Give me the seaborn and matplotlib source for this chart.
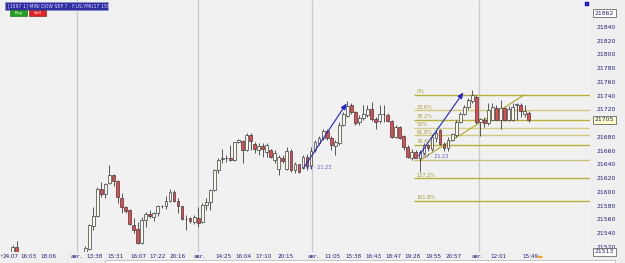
import numpy as np
import pandas as pd
import matplotlib
matplotlib.use("Agg")
import matplotlib.pyplot as plt
import matplotlib.transforms as mtrans
from matplotlib.patches import Rectangle, Circle
import seaborn as sns

nan = np.nan
# OHLC values (index = bar number)
opens = [21512, 21520] + [nan]*16 + [
    21513, 21517, 21551, 21565, 21605, 21597, 21613, 21625, 21616, 21591,
    21578, 21574, 21552, 21546, 21526, 21559, 21568, 21564, 21569, 21579,
    21579, 21587, 21600, 21587, 21579, 21561, 21562, 21557, 21562, 21557,
    21581, 21586, 21603, 21632, 21648, 21649, 21649, 21647, 21672, 21674,
    21661, 21683,
    21669, 21661, 21667, 21658, 21661, 21646, 21634, 21650, 21634, 21660,
    21632, 21640, 21635, 21651, 21637, 21661, 21671, 21678, 21689, 21679,
    21667, 21671, 21698, 21711, 21727, 21716, 21701, 21707, 21712, 21720,
    21706, 21703, 21713, 21712, 21703, 21680, 21694, 21682, 21666, 21650,
    21658, 21649, 21656, 21668, 21662, 21678, 21690, 21670, 21664, 21676,
    21683, 21702, 21714, 21723, 21732, 21738, 21702, 21705, 21700, 21705,
    21722, 21705, 21722, 21705, 21705, 21727, 21726, 21714, 21715]
highs = [21523, 21529] + [nan]*16 + [
    21521, 21553, 21578, 21607, 21614, 21613, 21639, 21626, 21617, 21598,
    21580, 21575, 21562, 21556, 21564, 21571, 21574, 21571, 21581, 21581,
    21594, 21605, 21603, 21591, 21580, 21566, 21563, 21566, 21578, 21584,
    21591, 21605, 21633, 21649, 21663, 21654, 21668, 21673, 21677, 21676,
    21685, 21685,
    21673, 21671, 21671, 21671, 21663, 21661, 21654, 21654, 21666, 21662,
    21644, 21641, 21654, 21655, 21666, 21675, 21681, 21691, 21691, 21681,
    21675, 21702, 21716, 21732, 21729, 21717, 21712, 21726, 21727, 21731,
    21709, 21726, 21726, 21715, 21705, 21697, 21696, 21683, 21668, 21662,
    21661, 21661, 21671, 21670, 21684, 21690, 21692, 21672, 21680, 21686,
    21704, 21716, 21726, 21736, 21748, 21741, 21707, 21709, 21729, 21729,
    21726, 21734, 21724, 21725, 21729, 21729, 21729, 21726, 21717]
lows = [21511, 21510] + [nan]*16 + [
    21511, 21516, 21545, 21564, 21593, 21591, 21611, 21609, 21584, 21569,
    21570, 21552, 21540, 21524, 21524, 21549, 21562, 21558, 21565, 21576,
    21575, 21586, 21586, 21569, 21559, 21545, 21555, 21554, 21549, 21555,
    21574, 21574, 21602, 21627, 21642, 21644, 21645, 21645, 21671, 21642,
    21660, 21661,
    21657, 21654, 21651, 21651, 21650, 21642, 21625, 21642, 21632, 21629,
    21628, 21627, 21634, 21632, 21634, 21658, 21668, 21675, 21675, 21661,
    21654, 21668, 21696, 21709, 21714, 21698, 21697, 21705, 21709, 21703,
    21692, 21700, 21702, 21702, 21678, 21678, 21677, 21661, 21649, 21646,
    21649, 21629, 21654, 21660, 21660, 21672, 21668, 21660, 21660, 21674,
    21680, 21700, 21712, 21721, 21730, 21699, 21682, 21694, 21697, 21704,
    21704, 21692, 21703, 21703, 21703, 21705, 21709, 21709, 21701]
closes = [21520, 21511] + [nan]*16 + [
    21519, 21552, 21565, 21605, 21597, 21612, 21625, 21616, 21592, 21578,
    21573, 21553, 21545, 21526, 21559, 21568, 21565, 21569, 21580, 21580,
    21587, 21600, 21587, 21580, 21560, 21560, 21558, 21563, 21555, 21581,
    21586, 21603, 21632, 21647, 21649, 21649, 21646, 21672, 21675, 21661,
    21683, 21674,
    21662, 21667, 21662, 21668, 21651, 21656, 21651, 21645, 21660, 21632,
    21640, 21629, 21651, 21637, 21660, 21672, 21678, 21689, 21678, 21668,
    21673, 21698, 21713, 21725, 21716, 21700, 21707, 21713, 21720, 21706,
    21702, 21713, 21713, 21703, 21680, 21694, 21679, 21666, 21651, 21658,
    21650, 21658, 21668, 21664, 21680, 21686, 21670, 21664, 21676, 21684,
    21702, 21714, 21724, 21734, 21741, 21701, 21706, 21700, 21719, 21724,
    21705, 21722, 21705, 21720, 21724, 21728, 21717, 21717, 21705]

x_tick_labels = ["24.07", "16:03", "18:06", "авг.", "13:38", "15:31", "16:07", "17:22",
                 "20:16", "авг.", "14:25", "16:04", "17:10", "20:15", "авг.", "11:05",
                 "15:38", "16:43", "18:47", "19:28", "19:55", "20:57", "авг.", "12:01", "15:49"]
y_ticks = list(range(21520, 21861, 20))

fib_labels = ["0%", "23.6%", "38.2%", "50%", "61.8%", "76.4%", "100%", "127.2%", "161.8%"]
fib_ratios = [0.0, 0.236, 0.382, 0.5, 0.618, 0.764, 1.0, 1.272, 1.618]
fib_high = 21741
fib_low = 21646

price_boxes = ["21862", "21705", "21513"]
price_box_values = [21860, 21705, 21513]

# ---------------- layout ----------------
W, H = 625, 263
sns.set_style("white", {"axes.facecolor": "#F1F1F1", "figure.facecolor": "#EFEFEF"})
plt.rcParams['font.family'] = ['DejaVu Sans']

fig = plt.figure(figsize=(W / 100, H / 100), dpi=100)
ax = fig.add_axes([0, 11 / H, 590 / W, 252 / H])
ax.set_facecolor("#F1F1F1")
for s in ax.spines.values():
    s.set_visible(False)

df = pd.DataFrame({"open": opens, "high": highs, "low": lows, "close": closes})
df["idx"] = np.arange(len(df))
df = df.dropna()

x_tick_pos = [-0.45, 3.8, 8.75, 15.7, 20.2, 25.4, 31.3, 36.0, 41.0, 46.2, 52.2, 57.1,
              62.1, 67.6, 74.5, 79.2, 84.4, 89.4, 94.4, 99.1, 104.3, 109.3, 115.2, 120.4, 128.3]
day_lines = [16.0, 46.0, 74.2, 115.6]
for d in day_lines:
    ax.axvline(d, color="#C9C9C9", lw=0.9, zorder=1)

# fibonacci levels
fib_colors = ["#B8B03A", "#CFC97A", "#B8B03A", "#D3CE8A", "#CFC97A", "#B8B03A",
              "#C9C37A", "#B8B03A", "#B8B03A"]
x_fib0 = 99.6
for lab, r, col in zip(fib_labels, fib_ratios, fib_colors):
    lvl = fib_high - r * (fib_high - fib_low)
    ax.plot([x_fib0, 150], [lvl, lvl], color=col, lw=1.0, zorder=2, solid_capstyle="butt")
    if lab != "100%":
        ax.text(x_fib0 + 0.5, lvl + 2.2, lab, fontsize=3.6, color="#A09A30", zorder=6)
ax.plot([101.0, 126.9], [fib_low, fib_high], color="#B8B03A", lw=0.9, zorder=2)

# candles
wick_col = "#3C3C3C"
ax.vlines(df["idx"], df["low"], df["high"], color=wick_col, lw=0.6, zorder=3)
up = df[df["close"] >= df["open"]]
dn = df[df["close"] < df["open"]]
ax.bar(up["idx"], np.maximum(up["close"] - up["open"], 0.6), bottom=up["open"], width=0.68,
       color="#F7F7EC", edgecolor=wick_col, lw=0.5, zorder=4)
ax.bar(dn["idx"], dn["open"] - dn["close"], bottom=dn["close"], width=0.68,
       color="#E8484C", edgecolor=wick_col, lw=0.5, zorder=4)

# arrows and annotations
for (x0, y0, x1, y1) in [(71.8, 21632, 83.2, 21732), (100.3, 21649, 112.2, 21748)]:
    ax.annotate("", xy=(x1, y1), xytext=(x0, y0),
                arrowprops=dict(arrowstyle="-|>,head_length=0.35,head_width=0.15",
                                color="#2424C8", lw=0.8), zorder=5)
ax.text(72.8, 21633, "07 · 21:23", fontsize=3.6, color="#5A5AC8", zorder=6)
ax.text(101.8, 21649, "07 · 21:23", fontsize=3.6, color="#5A5AC8", zorder=6)

ax.set_xlim(-3.16, 143.2)
ax.set_ylim(21512.7, 21879)

ax.set_xticks(x_tick_pos)
ax.set_xticklabels(x_tick_labels)
ax.tick_params(axis="x", length=0, pad=1.5, labelsize=4.1, labelcolor="#22227A")
ax.yaxis.tick_right()
ax.set_yticks(y_ticks)
ax.set_yticklabels([str(v) for v in y_ticks])
ax.tick_params(axis="y", length=0, pad=4.5, labelsize=4.4, labelcolor="#22227A")

tr = mtrans.blended_transform_factory(ax.transAxes, ax.transData)
box_fc = ["#FFFFFF", "#FFFFC8", "#FFFFFF"]
for t, v, fc in zip(price_boxes, price_box_values, box_fc):
    ax.text(1.0 + 5 / 590, v, t, transform=tr, fontsize=4.4, color="#22227A", va="center",
            ha="left", clip_on=False, zorder=10,
            bbox=dict(boxstyle="square,pad=0.25", fc=fc, ec="#505050", lw=0.5))

# header / chrome
def fig_rect(x, y, w, h, **kw):
    fig.add_artist(Rectangle((x / W, 1 - (y + h) / H), w / W, h / H,
                             transform=fig.transFigure, **kw))

fig_rect(5, 2, 103, 8, fc="#2E2EA0", ec="#9090D0", lw=0.5, zorder=20)
fig.text(8 / W, 1 - 6.3 / H, "[1597 1] MINI DOW SEP 7 · F.US.YMU17 1597", fontsize=3.3,
         color="#D8D8FF", va="center", ha="left", zorder=21)
fig_rect(10, 10, 17, 6, fc="#22A022", ec="#106010", lw=0.4, zorder=20)
fig.text(18.5 / W, 1 - 13 / H, "Buy", fontsize=3.2, color="white", va="center", ha="center", zorder=21)
fig_rect(29, 10, 17, 6, fc="#E02424", ec="#701010", lw=0.4, zorder=20)
fig.text(37.5 / W, 1 - 13 / H, "Sell", fontsize=3.2, color="white", va="center", ha="center", zorder=21)
fig_rect(585, 2, 4, 4, fc="#2020E0", ec="#101080", lw=0.3, zorder=20)
fig_rect(105, 260, 510, 4, fc="#FFFFFF", ec="#B0B0B0", lw=0.5, zorder=20)
fig.add_artist(Circle((540 / W, 1 - 257 / H), 2.8 / W, transform=fig.transFigure,
                      fc="#F5A623", ec="none", zorder=20))
fig.text(0 / W, 1 - 256 / H, "+", fontsize=3.2, color="#404040", va="center", ha="left")

fig.savefig("out.png", dpi=100, facecolor=fig.get_facecolor())
